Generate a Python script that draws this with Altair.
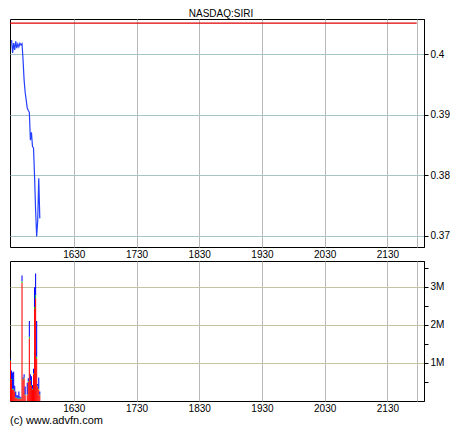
import altair as alt
import pandas as pd

# ---------------- data ----------------
title_text = "NASDAQ:SIRI"
credit_text = "(c) www.advfn.com"

price_times = ["15:30", "15:31", "15:32", "15:33", "15:34", "15:35", "15:36", "15:37",
               "15:38", "15:39", "15:40", "15:41", "15:42", "15:43", "15:44", "15:45",
               "15:46", "15:47", "15:48", "15:49", "15:50", "15:51", "15:52", "15:53",
               "15:54", "15:55", "15:56", "15:57"]
prices = [0.4023, 0.4002, 0.4018, 0.4007, 0.4021, 0.4010, 0.4017, 0.4012,
          0.4018, 0.4015, 0.4017, 0.3990, 0.3957, 0.3937, 0.3924, 0.3911,
          0.3907, 0.3904, 0.3858, 0.3871, 0.3848, 0.3845, 0.3798, 0.3742,
          0.3699, 0.3725, 0.3795, 0.3729]

prev_close = 0.4051
prev_close_span = ["15:29", "21:58"]

vol_times = ["15:29", "15:30", "15:31", "15:32", "15:33", "15:34", "15:35", "15:36",
             "15:37", "15:38", "15:39", "15:40", "15:41", "15:42", "15:43", "15:44",
             "15:45", "15:46", "15:47", "15:48", "15:49", "15:50", "15:51", "15:52",
             "15:53", "15:54", "15:55", "15:56", "15:57"]
# volumes in millions of shares
vol_red = [1.06, 0.56, 0.30, 0.30, 0.25, 0.08, 0.08, 0.05, 0.05, 0.05, 0.05, 3.10, 0.56, 0.60,
           0.15, 0.00, 0.15, 0.50, 1.64, 0.53, 0.40, 0.30, 0.70, 2.42, 2.70, 1.12, 0.38, 0.30, 0.15]
vol_green = [0.02, 0.02, 0.02, 0.02, 0.02, 0.02, 0.02, 0.02, 0.02, 0.02, 0.02, 0.05, 0.02, 0.02,
             0.02, 0.00, 0.02, 0.02, 0.05, 0.02, 0.02, 0.02, 0.02, 0.05, 0.08, 0.04, 0.02, 0.02, 0.02]
vol_blue = [0.02, 0.22, 0.43, 0.45, 0.13, 0.15, 0.05, 0.08, 0.18, 0.05, 0.03, 0.15, 0.04, 0.08,
            0.21, 0.00, 0.31, 0.08, 0.41, 0.15, 0.23, 0.10, 0.13, 0.52, 0.57, 0.94, 0.05, 0.30, 0.08]

x_domain_times = ["15:29", "22:05"]
x_tick_times = ["16:30", "17:30", "18:30", "19:30", "20:30", "21:30", "21:58"]
price_ticks = [0.370, 0.375, 0.380, 0.385, 0.390, 0.395, 0.400, 0.405]
price_domain = [0.36818, 0.40579]
vol_ticks = [0.5, 1.0, 1.5, 2.0, 2.5, 3.0, 3.5]
vol_domain = [0, 3.68]


def to_min(s):
    h, m = s.split(":")
    return int(h) * 60 + int(m)


# ---------------- frames ----------------
price_df = pd.DataFrame({"t": [to_min(s) + 0.5 for s in price_times], "p": prices})
close_df = pd.DataFrame({"t0": [to_min(prev_close_span[0])],
                         "t1": [to_min(prev_close_span[1])],
                         "p": [prev_close]})
rows = []
for s, r, g, b in zip(vol_times, vol_red, vol_green, vol_blue):
    t = to_min(s)
    rows.append({"t0": t, "t1": t + 1, "part": "red", "ord": 0, "v": r})
    rows.append({"t0": t, "t1": t + 1, "part": "green", "ord": 1, "v": g})
    rows.append({"t0": t, "t1": t + 1, "part": "blue", "ord": 2, "v": b})
vol_df = pd.DataFrame(rows)

FONT = "Liberation Sans"
W = 414
xscale = alt.Scale(domain=[to_min(s) for s in x_domain_times], nice=False, zero=False)
x_vals = [to_min(s) for s in x_tick_times]
x_label_expr = "(datum.value % 60 == 30) ? toString(floor(datum.value/60)*100 + 30) : ''"


def x_axis():
    return alt.Axis(values=x_vals, labelExpr=x_label_expr, ticks=False, domain=False,
                    grid=True, gridColor="#b8b8b8", gridWidth=1,
                    labelFont=FONT, labelFontSize=10, labelColor="black",
                    labelPadding=2, title=None, labelFlush=False)


# ---------------- price panel ----------------
p_y = alt.Y("p:Q", scale=alt.Scale(domain=price_domain, nice=False, zero=False),
            axis=alt.Axis(orient="right", values=price_ticks,
                          labelExpr="(round(datum.value*1000) % 10 == 0) ? toString(round(datum.value*100)/100) : ''",
                          gridOpacity={"condition": {"test": "round(datum.value*1000) % 10 == 0", "value": 1}, "value": 0},
                          gridColor="#a6c4c4", tickSize=4, tickColor="black",
                          domainColor="black", labelPadding=2, labelFont=FONT,
                          labelFontSize=10, labelColor="black", title=None))

price_line = alt.Chart(price_df).mark_line(color="#2440ff", strokeWidth=1.2).encode(
    x=alt.X("t:Q", scale=xscale, axis=x_axis()), y=p_y)
close_rule = alt.Chart(close_df).mark_rule(color="#e00000", strokeWidth=1.2).encode(
    x=alt.X("t0:Q", scale=xscale), x2="t1:Q", y=alt.Y("p:Q"))

top = alt.layer(close_rule, price_line).properties(
    width=W, height=228,
    title=alt.TitleParams(title_text, fontSize=10, font=FONT, fontWeight="normal",
                          color="black", anchor="middle", offset=0, dx=4))

# ---------------- volume panel ----------------
v_y = alt.Y("v0:Q", scale=alt.Scale(domain=vol_domain, nice=False, zero=True),
            axis=alt.Axis(orient="right", values=vol_ticks,
                          labelExpr="(datum.value == round(datum.value)) ? toString(datum.value) + 'M' : ''",
                          gridOpacity={"condition": {"test": "datum.value == round(datum.value)", "value": 1}, "value": 0},
                          gridColor="#c4c4a4", tickSize=4, tickColor="black",
                          domainColor="black", labelPadding=2, labelFont=FONT,
                          labelFontSize=10, labelColor="black", title=None))

bars = alt.Chart(vol_df).transform_stack(
    stack="v", groupby=["t0"], as_=["v0", "v1"], sort=[alt.SortField("ord")]
).mark_bar(strokeWidth=0).encode(
    x=alt.X("t0:Q", scale=xscale, axis=x_axis()),
    x2="t1:Q",
    y=v_y, y2="v1:Q",
    color=alt.Color("part:N", scale=alt.Scale(domain=["red", "green", "blue"],
                                              range=["#ff0000", "#00c800", "#0000ff"]),
                    legend=None))

bottom = bars.properties(
    width=W, height=140,
    title=alt.TitleParams(credit_text, orient="bottom", anchor="start", fontSize=11,
                          font=FONT, fontWeight="normal", color="black", offset=2,
                          frame="group"))

chart = alt.vconcat(top, bottom, spacing=0).properties(
    padding={"left": 0, "top": 0, "right": 0, "bottom": 0}, background="white"
).configure_view(stroke="black", strokeWidth=1).configure_axis(domainWidth=1, tickWidth=1)

chart.save("out.html", embed_options={"renderer": "svg", "actions": False})
